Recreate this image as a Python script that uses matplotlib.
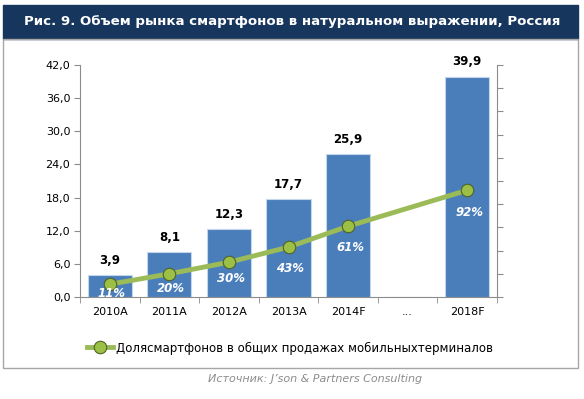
import numpy as np
import matplotlib

matplotlib.use("Agg")
import matplotlib.pyplot as plt
from matplotlib.patches import Rectangle

categories = ["2010A", "2011A", "2012A", "2013A", "2014F", "...", "2018F"]
volume = [3.9, 8.1, 12.3, 17.7, 25.9, np.nan, 39.9]   # млн шт.
share = [11, 20, 30, 43, 61, np.nan, 92]              # %
left_ticks = [0, 6, 12, 18, 24, 30, 36, 42]

title = "Рис. 9. Объем рынка смартфонов в натуральном выражении, Россия"
legend_label = "Долясмартфонов в общих продажах мобильныхтерминалов"
source = "Источник: J’son & Partners Consulting"

BAR = "#4a7ebb"
LINE = "#9bbb59"
NAVY = "#17365d"
# how far (px) each % label sits below its marker, as in the original
pct_drop = [9, 15, 16, 21, 21, 22]

fig = plt.figure(figsize=(5.84, 3.99), dpi=100)

# header bar + frame
fig.patches.append(Rectangle((3 / 584, 1 - 39 / 399), 575 / 584, 34 / 399,
                             transform=fig.transFigure, color=NAVY, zorder=-2))
fig.patches.append(Rectangle((3 / 584, 1 - 368 / 399), 575 / 584, 329 / 399,
                             transform=fig.transFigure, facecolor="none",
                             edgecolor="#a6a6a6", lw=1, zorder=-2))
fig.text(0.5, 1 - 22 / 399, title, color="white", fontsize=9.6,
         fontweight="bold", ha="center", va="center")

ax = fig.add_axes([80 / 584, 1 - 297 / 399, 417 / 584, 232 / 399])
ax.set_facecolor("none")
x = np.arange(len(categories))
vol = np.array(volume, dtype=float)
ax.bar(x, np.nan_to_num(vol), width=0.74, color=BAR,
       edgecolor="#c6d6ea", linewidth=0.8, zorder=2)
for i, v in enumerate(vol):
    if not np.isnan(v):
        ax.annotate(f"{v:.1f}".replace(".", ","), (i, v), xytext=(0, 6),
                    textcoords="offset points", ha="center", va="bottom",
                    fontsize=8.5, fontweight="bold", color="black")

ax.set_xlim(-0.5, len(categories) - 0.5)
ax.set_ylim(0, 42)
ax.set_yticks(left_ticks)
ax.set_yticklabels([f"{t:.1f}".replace(".", ",") for t in left_ticks], fontsize=8)
ax.set_xticks(x)
ax.set_xticklabels(categories, fontsize=8)
ax.set_xticks(np.arange(-0.5, len(categories)), minor=True)
ax.tick_params(axis="x", which="major", length=0, pad=7)
ax.tick_params(axis="x", which="minor", length=4, color="#8c8c8c")
ax.tick_params(axis="y", length=4, color="#8c8c8c", pad=3)
for s in ("top", "right"):
    ax.spines[s].set_visible(False)
for s in ("left", "bottom"):
    ax.spines[s].set_color("#8c8c8c")

ax2 = ax.twinx()
ax2.set_ylim(0, 200)
ax2.set_yticks(np.arange(0, 201, 20))
ax2.set_yticklabels([])
ax2.tick_params(axis="y", length=4, color="#8c8c8c")
for s in ("top", "left", "bottom"):
    ax2.spines[s].set_visible(False)
ax2.spines["right"].set_color("#8c8c8c")

sh = np.array(share, dtype=float)
ok = ~np.isnan(sh)
ax2.plot(x[ok], sh[ok], color=LINE, lw=3.5, marker="o", markersize=9,
         markerfacecolor="#9cbf45", markeredgecolor="#4f6228",
         markeredgewidth=0.8, zorder=3, label=legend_label)
for (i, s), d in zip(zip(x[ok], sh[ok]), pct_drop):
    ax2.annotate(f"{s:.0f}%", (i, s), xytext=(2, -d), textcoords="offset pixels",
                 ha="center", va="center", fontsize=8.5, fontweight="bold",
                 fontstyle="italic", color="white", zorder=4)

fig.legend(loc="center", bbox_to_anchor=(290 / 584, 1 - 348 / 399), frameon=False,
           fontsize=8.5, handlelength=2.2, handletextpad=0.3)

fig.text(315 / 584, 1 - 379 / 399, source, fontsize=8, fontstyle="italic",
         color="#8c8c8c", ha="center", va="center")

fig.savefig("out.png", dpi=100)
